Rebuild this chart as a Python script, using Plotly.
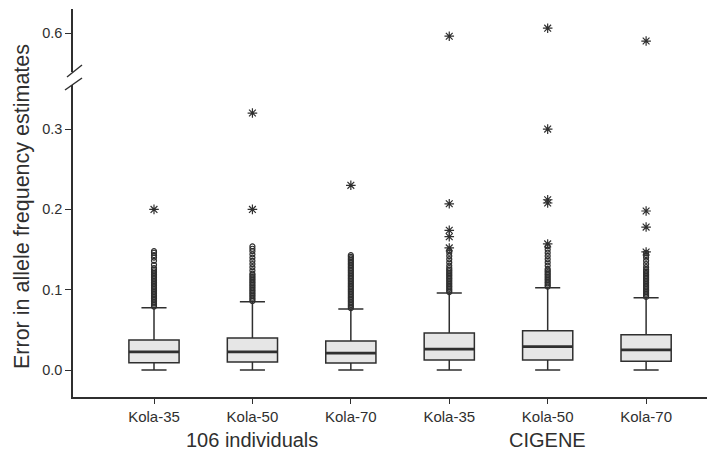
import plotly.graph_objects as go

# ---- data ----
categories = ["Kola-35", "Kola-50", "Kola-70", "Kola-35", "Kola-50", "Kola-70"]
groups = ["106 individuals", "CIGENE"]
positions = [0, 1, 2, 3, 4, 5]

q1 = [0.009, 0.010, 0.0087, 0.0125, 0.0125, 0.011]
median = [0.0225, 0.0225, 0.021, 0.026, 0.029, 0.025]
q3 = [0.0375, 0.040, 0.036, 0.046, 0.049, 0.044]
lower_whisker = [0.0, 0.0, 0.0, 0.0, 0.0, 0.0]
upper_whisker = [0.0775, 0.085, 0.076, 0.096, 0.1025, 0.090]

# mild outliers (open circles)
out_0 = [0.079, 0.081, 0.083, 0.085, 0.087, 0.089, 0.091, 0.093, 0.095, 0.097, 0.099, 0.101,
         0.103, 0.105, 0.107, 0.109, 0.111, 0.113, 0.115, 0.117, 0.119, 0.121, 0.123, 0.125,
         0.127, 0.131, 0.136, 0.140, 0.143, 0.146, 0.148]
out_1 = [0.086, 0.088, 0.090, 0.092, 0.094, 0.096, 0.098, 0.100, 0.102, 0.104, 0.106, 0.108,
         0.110, 0.112, 0.114, 0.116, 0.118, 0.120, 0.124, 0.128, 0.132, 0.136, 0.140, 0.144,
         0.148, 0.151, 0.154]
out_2 = [0.077, 0.079, 0.081, 0.083, 0.085, 0.087, 0.089, 0.091, 0.093, 0.095, 0.097, 0.099,
         0.101, 0.103, 0.105, 0.107, 0.109, 0.111, 0.113, 0.115, 0.117, 0.119, 0.121, 0.123,
         0.125, 0.127, 0.129, 0.131, 0.133, 0.135, 0.137, 0.139, 0.141, 0.143]
out_3 = [0.097, 0.099, 0.101, 0.103, 0.105, 0.107, 0.109, 0.111, 0.113, 0.115, 0.117, 0.119,
         0.121, 0.123, 0.125, 0.127, 0.130, 0.134, 0.138, 0.142, 0.146, 0.149]
out_4 = [0.104, 0.106, 0.108, 0.110, 0.112, 0.114, 0.116, 0.118, 0.120, 0.122, 0.124, 0.126,
         0.130, 0.134, 0.138, 0.142, 0.146, 0.150, 0.154]
out_5 = [0.091, 0.093, 0.095, 0.097, 0.099, 0.101, 0.103, 0.105, 0.107, 0.109, 0.111, 0.113,
         0.115, 0.117, 0.119, 0.121, 0.123, 0.125, 0.128, 0.132, 0.136, 0.140, 0.143, 0.146]
mild_outliers = [out_0, out_1, out_2, out_3, out_4, out_5]

# extreme outliers (asterisks) in the lower panel
ext_0 = [0.200]
ext_1 = [0.200, 0.320]
ext_2 = [0.230]
ext_3 = [0.152, 0.166, 0.174, 0.207]
ext_4 = [0.157, 0.208, 0.212, 0.300]
ext_5 = [0.147, 0.178, 0.198]
extreme_outliers = [ext_0, ext_1, ext_2, ext_3, ext_4, ext_5]

# extreme outliers in the upper (broken) panel
top_positions = [3, 4, 5]
top_values = [0.596, 0.606, 0.590]

low_ticks = [0.0, 0.1, 0.2, 0.3]
low_tick_text = ["0.0", "0.1", "0.2", "0.3"]
high_ticks = [0.6]
high_tick_text = ["0.6"]

y_title = "Error in allele frequency estimates"

# ---- styling ----
OFF = 8  # page body margin of the browser
W, H = 715 - OFF, 455 - OFF
ML, MR, MT, MB = 73 - OFF, 0, 9 - OFF, 0
PLOT_BOTTOM = 397 - OFF
MB = H - PLOT_BOTTOM
PW, PH = W - ML - MR, H - MT - MB
INK = "#2f2f2f"
BOX_W = 0.51


def px_x(p):  # screen pixel -> paper
    return (p - OFF - ML) / PW


def px_y(p):
    return (PLOT_BOTTOM - (p - OFF)) / PH


fig = go.Figure()

for i, pos in enumerate(positions):
    fig.add_trace(go.Box(
        x=[pos], q1=[q1[i]], median=[median[i]], q3=[q3[i]],
        lowerfence=[lower_whisker[i]], upperfence=[upper_whisker[i]],
        width=BOX_W, whiskerwidth=0.5, boxpoints=False,
        fillcolor="#e6e6e6", line=dict(color=INK, width=1.5),
        showlegend=False, hoverinfo="skip", yaxis="y",
    ))
    # thicker median line
    fig.add_trace(go.Scatter(
        x=[pos - BOX_W / 2, pos + BOX_W / 2], y=[median[i], median[i]],
        mode="lines", line=dict(color=INK, width=2.8),
        showlegend=False, hoverinfo="skip", yaxis="y",
    ))
    fig.add_trace(go.Scatter(
        x=[pos] * len(mild_outliers[i]), y=mild_outliers[i], mode="markers",
        marker=dict(symbol="circle-open", size=5, color=INK, line=dict(width=1.2)),
        showlegend=False, hoverinfo="skip", yaxis="y",
    ))
    fig.add_trace(go.Scatter(
        x=[pos] * len(extreme_outliers[i]), y=extreme_outliers[i], mode="markers",
        marker=dict(symbol="asterisk-open", size=8, color=INK, line=dict(width=1.2, color=INK)),
        showlegend=False, hoverinfo="skip", yaxis="y",
    ))

fig.add_trace(go.Scatter(
    x=top_positions, y=top_values, mode="markers",
    marker=dict(symbol="asterisk-open", size=8, color=INK, line=dict(width=1.2, color=INK)),
    showlegend=False, hoverinfo="skip", yaxis="y2",
))

fig.update_layout(
    width=W, height=H,
    margin=dict(l=ML, r=MR, t=MT, b=MB, pad=0),
    paper_bgcolor="white", plot_bgcolor="white",
    font=dict(family="Liberation Sans, Arial, sans-serif", color=INK, size=14),
    xaxis=dict(
        range=[-0.823, 5.70], tickmode="array", tickvals=positions, ticktext=categories,
        showline=True, linecolor=INK, linewidth=1.5, ticks="outside", ticklen=5,
        tickcolor=INK, tickwidth=1.3, showgrid=False, zeroline=False,
        tickfont=dict(size=15), fixedrange=True,
    ),
    yaxis=dict(
        domain=[0, px_y(85)], range=[(370 - 397) / 803, (370 - 85) / 803],
        tickmode="array", tickvals=low_ticks, ticktext=low_tick_text,
        showline=True, linecolor=INK, linewidth=1.5, ticks="outside", ticklen=6,
        tickcolor=INK, tickwidth=1.3, showgrid=False, zeroline=False,
        tickfont=dict(size=14.5),
    ),
    yaxis2=dict(
        domain=[px_y(72), 1], range=[0.6 - 39 / 803, 0.6 + 24 / 803],
        tickmode="array", tickvals=high_ticks, ticktext=high_tick_text,
        showline=True, linecolor=INK, linewidth=1.5, ticks="outside", ticklen=6,
        tickcolor=INK, tickwidth=1.3, showgrid=False, zeroline=False,
        tickfont=dict(size=14.5), anchor="x",
    ),
)

# axis break marks
for (x0, y0, x1, y1) in [(67, 77, 82, 65), (65, 90, 82, 78)]:
    fig.add_shape(type="line", xref="paper", yref="paper",
                  x0=px_x(x0), y0=px_y(y0), x1=px_x(x1), y1=px_y(y1),
                  line=dict(color=INK, width=1.5))

# y title
fig.add_annotation(text=y_title, xref="paper", yref="paper", x=px_x(22), y=px_y(207),
                   textangle=-90, showarrow=False, font=dict(size=21.5, color=INK),
                   xanchor="center", yanchor="middle")

# group labels
for g, gx in zip(groups, [1, 4]):
    fig.add_annotation(text=g, xref="x", yref="paper", x=gx, y=px_y(440),
                       showarrow=False, font=dict(size=20, color=INK),
                       xanchor="center", yanchor="middle")

fig.write_html("out.html")
